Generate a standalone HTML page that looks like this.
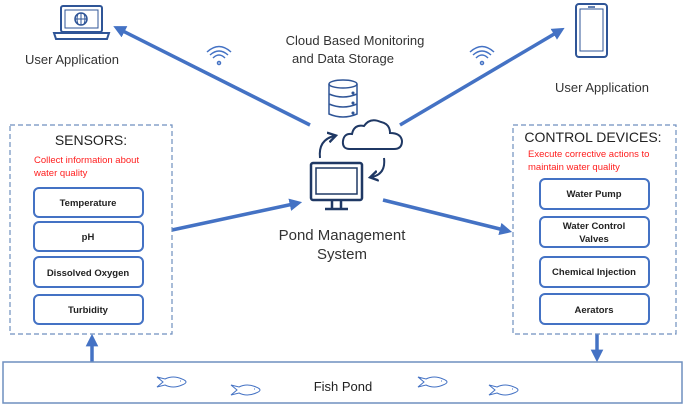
<!DOCTYPE html>
<html><head><meta charset="utf-8"><style>
html,body{margin:0;padding:0;background:#fff;}
svg{display:block;font-family:"Liberation Sans",Arial,sans-serif;}
</style></head><body>
<svg width="685" height="407" viewBox="0 0 685 407" xmlns="http://www.w3.org/2000/svg">
<defs>
<marker id="ah" markerWidth="3.6" markerHeight="3.6" refX="2.4" refY="1.8" orient="auto" markerUnits="strokeWidth">
<path d="M0,0 L3.6,1.8 L0,3.6 Z" fill="#4472C4"/></marker>
<marker id="sa" markerWidth="6" markerHeight="6" refX="3" refY="3" orient="auto" markerUnits="strokeWidth">
<path d="M0,0.5 L4,3 L0,5.5" fill="none" stroke="#1F3864" stroke-width="1.2"/></marker>
</defs>
<g fill="none" stroke="#4472C4" stroke-width="3.5">
<line x1="310" y1="125" x2="117" y2="28" marker-end="url(#ah)"/>
<line x1="400" y1="125" x2="561" y2="30" marker-end="url(#ah)"/>
<line x1="172" y1="230" x2="298" y2="203" marker-end="url(#ah)"/>
<line x1="383" y1="200" x2="508" y2="231" marker-end="url(#ah)"/>
<line x1="92" y1="362" x2="92" y2="338" marker-end="url(#ah)"/>
<line x1="597" y1="334" x2="597" y2="358" marker-end="url(#ah)"/>
</g>
<!-- laptop -->
<g fill="none" stroke="#2F5597" stroke-width="2">
<rect x="61" y="6" width="41" height="26" rx="2"/>
<rect x="65" y="10" width="33" height="18" stroke-width="1"/>
<path d="M54,33 L109,33 L107,39 L56,39 Z"/>
<circle cx="81" cy="19" r="6" stroke-width="1.5"/>
<path d="M75,19 H87 M81,13 V25 M78,14 Q76,19 78,24 M84,14 Q86,19 84,24" stroke-width="1"/>
</g>
<text x="72" y="64" font-size="13" text-anchor="middle" fill="#333">User Application</text>
<!-- phone -->
<g fill="none" stroke="#2F5597" stroke-width="2">
<rect x="576" y="4" width="31" height="53" rx="3"/>
<rect x="580" y="9" width="23" height="42" stroke-width="1"/>
<line x1="588" y1="7" x2="595" y2="7" stroke-width="1.5"/>
</g>
<text x="602" y="92" font-size="13" text-anchor="middle" fill="#333">User Application</text>
<!-- wifi -->
<g fill="none" stroke="#4472C4" stroke-width="1.5">
<path d="M210,55 Q219,47 228,55 M213,58 Q219,52 225,58 M207,52 Q219,41 231,52"/>
<circle cx="219" cy="63" r="1.5"/>
<path d="M473,55 Q482,47 491,55 M476,58 Q482,52 488,58 M470,52 Q482,41 494,52"/>
<circle cx="482" cy="63" r="1.5"/>
</g>
<text x="355" y="45" font-size="13" text-anchor="middle" fill="#333">Cloud Based Monitoring</text>
<text x="343" y="63" font-size="13" text-anchor="middle" fill="#333">and Data Storage</text>
<!-- database -->
<g fill="none" stroke="#2F5597" stroke-width="1.5">
<ellipse cx="343" cy="84" rx="14" ry="4"/>
<path d="M329,84 V114 Q343,120 357,114 V84 M329,94 Q343,100 357,94 M329,104 Q343,110 357,104"/>
<circle cx="353" cy="93" r="0.8"/><circle cx="353" cy="103" r="0.8"/><circle cx="353" cy="113" r="0.8"/>
</g>
<!-- cloud -->
<path d="M350,149 Q342,149 343,141 Q344,133 352,134 Q354,124 364,126 Q370,117 381,122 Q390,124 390,133 Q401,133 402,141 Q402,149 394,149 Z" fill="none" stroke="#1F3864" stroke-width="2"/>
<path d="M320,158 Q318,140 334,136" fill="none" stroke="#1F3864" stroke-width="2" marker-end="url(#sa)"/>
<path d="M384,158 Q386,174 372,177" fill="none" stroke="#1F3864" stroke-width="2" marker-end="url(#sa)"/>
<!-- monitor -->
<g fill="none" stroke="#1F3864" stroke-width="2.5">
<rect x="311" y="163" width="51" height="37" rx="2"/>
<rect x="316" y="168" width="41" height="26" fill="#fff" stroke-width="1.5"/>
<path d="M332,200 V208 M341,200 V208 M325,209 H348"/>
</g>
<text x="342" y="240" font-size="15" text-anchor="middle" fill="#333">Pond Management</text>
<text x="342" y="259" font-size="15" text-anchor="middle" fill="#333">System</text>
<!-- sensors -->
<rect x="10" y="125" width="162" height="209" fill="none" stroke="#6F8FBF" stroke-width="1.2" stroke-dasharray="5,3"/>
<text x="91" y="145" font-size="14" text-anchor="middle" fill="#222">SENSORS:</text>
<text x="34" y="163" font-size="9.5" fill="#FF2020">Collect information about</text>
<text x="34" y="176" font-size="9.5" fill="#FF2020">water quality</text>
<g fill="#fff" stroke="#4472C4" stroke-width="2">
<rect x="34" y="188" width="109" height="29" rx="5"/>
<rect x="34" y="222" width="109" height="29" rx="5"/>
<rect x="34" y="257" width="109" height="30" rx="5"/>
<rect x="34" y="295" width="109" height="29" rx="5"/>
</g>
<g font-size="9.5" font-weight="bold" text-anchor="middle" fill="#222">
<text x="88" y="206">Temperature</text>
<text x="88" y="240">pH</text>
<text x="88" y="276">Dissolved Oxygen</text>
<text x="88" y="313">Turbidity</text>
</g>
<!-- control -->
<rect x="513" y="125" width="163" height="209" fill="none" stroke="#6F8FBF" stroke-width="1.2" stroke-dasharray="5,3"/>
<text x="593" y="142" font-size="14" text-anchor="middle" fill="#222">CONTROL DEVICES:</text>
<text x="528" y="157" font-size="9.5" fill="#FF2020">Execute corrective actions to</text>
<text x="528" y="170" font-size="9.5" fill="#FF2020">maintain water quality</text>
<g fill="#fff" stroke="#4472C4" stroke-width="2">
<rect x="540" y="179" width="109" height="30" rx="5"/>
<rect x="540" y="217" width="109" height="30" rx="5"/>
<rect x="540" y="257" width="109" height="30" rx="5"/>
<rect x="540" y="294" width="109" height="30" rx="5"/>
</g>
<g font-size="9.5" font-weight="bold" text-anchor="middle" fill="#222">
<text x="594" y="197">Water Pump</text>
<text x="594" y="229">Water Control</text>
<text x="594" y="242">Valves</text>
<text x="594" y="275">Chemical Injection</text>
<text x="594" y="313">Aerators</text>
</g>
<!-- pond -->
<rect x="3" y="362" width="679" height="41" fill="#fff" stroke="#6F8FBF" stroke-width="1.5"/>
<text x="343" y="391" font-size="13" text-anchor="middle" fill="#222">Fish Pond</text>
<g fill="none" stroke="#4472C4" stroke-width="1">
<path transform="translate(157,377)" d="M0,0 L6,5 L0,10 L8,8 Q16,12 25,8 Q33,5 25,2 Q16,-2 8,2 Z M23,4 h1"/>
<path transform="translate(231,385)" d="M0,0 L6,5 L0,10 L8,8 Q16,12 25,8 Q33,5 25,2 Q16,-2 8,2 Z M23,4 h1"/>
<path transform="translate(418,377)" d="M0,0 L6,5 L0,10 L8,8 Q16,12 25,8 Q33,5 25,2 Q16,-2 8,2 Z M23,4 h1"/>
<path transform="translate(489,385)" d="M0,0 L6,5 L0,10 L8,8 Q16,12 25,8 Q33,5 25,2 Q16,-2 8,2 Z M23,4 h1"/>
</g>
</svg>
</body></html>
